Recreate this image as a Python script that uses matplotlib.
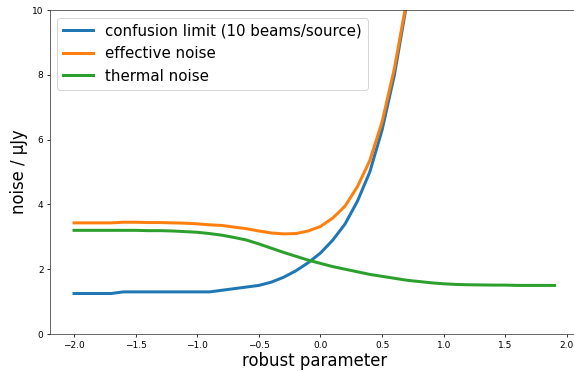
import numpy as np
import matplotlib
matplotlib.use("Agg")
import matplotlib.pyplot as plt

# robust parameter values
robust = [-2.0, -1.9, -1.8, -1.7, -1.6, -1.5, -1.4, -1.3, -1.2, -1.1,
          -1.0, -0.9, -0.8, -0.7, -0.6, -0.5, -0.4, -0.3, -0.2, -0.1,
          0.0, 0.1, 0.2, 0.3, 0.4, 0.5, 0.6, 0.7, 0.8, 0.9,
          1.0, 1.1, 1.2, 1.3, 1.4, 1.5, 1.6, 1.7, 1.8, 1.9]

# confusion limit (10 beams/source), uJy
confusion = [1.25, 1.25, 1.25, 1.25, 1.3, 1.3, 1.3, 1.3, 1.3, 1.3,
             1.3, 1.3, 1.35, 1.4, 1.45, 1.5, 1.6, 1.75, 1.95, 2.2,
             2.5, 2.9, 3.4, 4.1, 5.0, 6.3, 8.0, 10.2, 13.0, 16.5,
             21.0, 26.5, 33.5, 42.0, 53.0, 67.0, 84.0, 106.0, 133.0, 168.0]

# thermal noise, uJy
thermal = [3.2, 3.2, 3.2, 3.2, 3.2, 3.2, 3.19, 3.19, 3.18, 3.16,
           3.14, 3.1, 3.05, 2.98, 2.9, 2.78, 2.65, 2.52, 2.4, 2.28,
           2.18, 2.08, 2.0, 1.92, 1.84, 1.78, 1.72, 1.66, 1.62, 1.58,
           1.55, 1.53, 1.52, 1.515, 1.51, 1.51, 1.5, 1.5, 1.5, 1.5]

# effective noise, uJy
effective = [3.43, 3.43, 3.43, 3.43, 3.45, 3.45, 3.44, 3.44, 3.43, 3.42,
             3.4, 3.37, 3.35, 3.3, 3.25, 3.18, 3.12, 3.09, 3.1, 3.18,
             3.32, 3.58, 3.95, 4.55, 5.35, 6.55, 8.2, 10.3, 13.1, 16.6,
             21.1, 26.5, 33.5, 42.0, 53.0, 67.0, 84.0, 106.0, 133.0, 168.0]

fig = plt.figure(figsize=(574 / 72, 371 / 72), dpi=72)
ax = fig.add_axes([0.0871, 0.0997, 0.921, 0.8733])

ax.plot(robust, confusion, lw=3, label="confusion limit (10 beams/source)")
ax.plot(robust, effective, lw=3, label="effective noise")
ax.plot(robust, thermal, lw=3, label="thermal noise")

ax.set_ylim(0, 10)
ax.set_xlabel("robust parameter", fontsize=16.5, labelpad=2)
ax.set_ylabel("noise / μJy", fontsize=16.5)
ax.tick_params(labelsize=9, length=3)
for s in ax.spines.values():
    s.set_color("#444444")
ax.legend(loc="upper left", fontsize=15)

fig.savefig("out.png", dpi=72)
